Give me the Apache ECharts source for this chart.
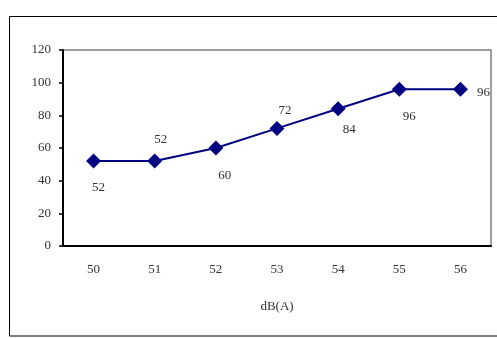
<!DOCTYPE html>
<html><head><meta charset="utf-8">
<script src="https://cdn.jsdelivr.net/npm/echarts@6/dist/echarts.min.js"></script>
<style>html,body{margin:0;padding:0;background:#fff}#c{width:497px;height:338px}</style>
</head><body><div id="c"></div>
<script>
const categories = ['50','51','52','53','54','55','56'];
const values = [52, 52, 60, 72, 84, 96, 96];
const yTicks = {min: 0, max: 120, interval: 20};
const axisName = 'dB(A)';
// label offsets relative to each marker (style only)
const labelOffsets = [[5,27],[6,-21],[9,28],[8,-18],[11,21],[10,27],[23,3]];

const font = 'Liberation Serif, "Times New Roman", serif';
const txt = '#333';
const chart = echarts.init(document.getElementById('c'), null, {renderer:'canvas'});
chart.setOption({
  animation: false,
  backgroundColor: '#fff',
  graphic: [{
    type: 'rect', shape: {x: 9.5, y: 16.5, width: 520, height: 319.5},
    style: {fill: 'none', stroke: '#000', lineWidth: 1}, z: -10, silent: true
  }],
  grid: {left: 63, top: 50, right: 6, bottom: 92, show: true, borderColor: '#808080', borderWidth: 1.5, backgroundColor: 'transparent'},
  xAxis: {
    type: 'category', data: categories, boundaryGap: true,
    name: axisName, nameLocation: 'middle', nameGap: 54,
    nameTextStyle: {fontFamily: font, fontSize: 13, color: txt},
    axisLine: {lineStyle: {color: '#000', width: 2}},
    axisTick: {inside: true, length: 4, lineStyle: {color: '#000', width: 1.5}},
    axisLabel: {margin: 17, fontFamily: font, fontSize: 13, color: txt},
    splitLine: {show: false}
  },
  yAxis: {
    type: 'value', min: yTicks.min, max: yTicks.max, interval: yTicks.interval,
    axisLine: {show: true, lineStyle: {color: '#000', width: 2}},
    axisTick: {show: true, length: 4, lineStyle: {color: '#000', width: 1.5}},
    axisLabel: {margin: 12, fontFamily: font, fontSize: 13, color: txt},
    splitLine: {show: false}
  },
  series: [{
    type: 'line',
    data: values.map((v, i) => ({
      value: v,
      label: {show: true, position: 'inside', offset: labelOffsets[i]}
    })),
    symbol: 'diamond', symbolSize: 15,
    itemStyle: {color: '#000080'},
    lineStyle: {color: '#000080', width: 2},
    label: {fontFamily: font, fontSize: 13, color: txt},
    z: 5
  }]
});
</script></body></html>
